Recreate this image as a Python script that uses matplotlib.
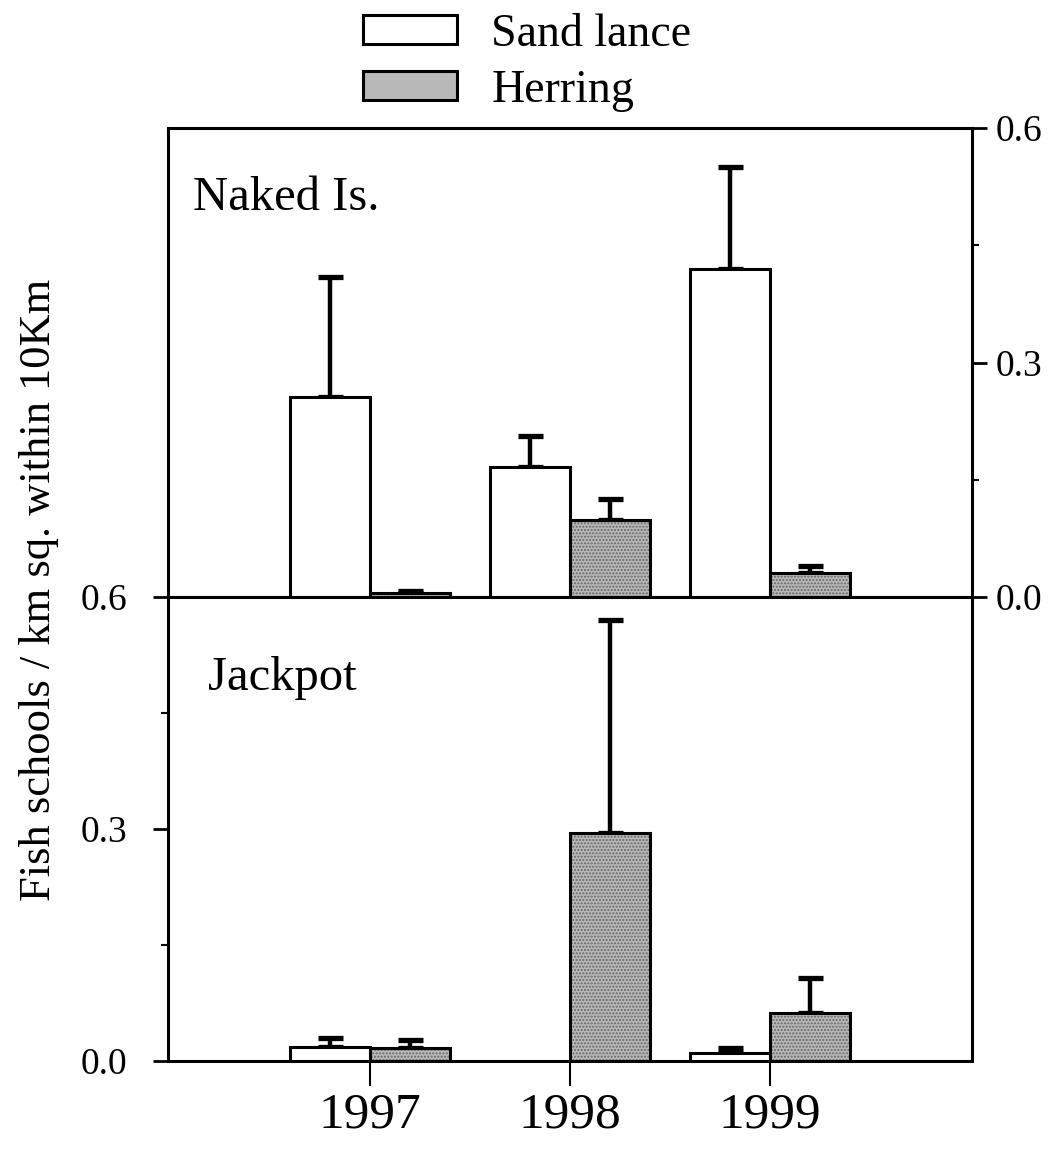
import numpy as np
import matplotlib.pyplot as plt
from matplotlib.patches import Patch
from matplotlib.ticker import MultipleLocator

plt.rcParams['font.family'] = ['Liberation Serif', 'DejaVu Serif']
plt.rcParams['ytick.labelsize'] = 27
plt.rcParams['xtick.labelsize'] = 37

years = [1997, 1998, 1999]
# Naked Island
naked_sand = [0.256, 0.166, 0.420]
naked_sand_err = [0.154, 0.040, 0.130]
naked_herring = [0.005, 0.099, 0.031]
naked_herring_err = [0.003, 0.027, 0.009]
# Jackpot
jack_sand = [0.018, 0.0, 0.010]
jack_sand_err = [0.012, 0.0, 0.007]
jack_herring = [0.017, 0.295, 0.062]
jack_herring_err = [0.010, 0.275, 0.045]

width = 0.4
x = np.array(years)
herring_face = '#b8b8b8'

fig = plt.figure(figsize=(10.58, 11.49), dpi=100)
ax_top = fig.add_axes([0.1588, 0.4804, 0.7600, 0.4082])
ax_bot = fig.add_axes([0.1588, 0.0766, 0.7600, 0.4038])


def draw_panel(ax, sand, sand_err, herring, herring_err):
    for xi, v, e in zip(x - width / 2, sand, sand_err):
        if v <= 0:
            continue
        ax.bar(xi, v, width, color='white', edgecolor='black', linewidth=2.2, zorder=3)
        ax.errorbar(xi, v, yerr=[[0], [e]], fmt='none', ecolor='black',
                    elinewidth=3.2, capsize=9, capthick=3.8, zorder=2)
    for xi, v, e in zip(x + width / 2, herring, herring_err):
        # stippled fill, then the black outline on top
        ax.bar(xi, v, width, color=herring_face, edgecolor='#666666', hatch='.....',
               linewidth=0, zorder=3)
        ax.bar(xi, v, width, fill=False, edgecolor='black', linewidth=2.2, zorder=4)
        ax.errorbar(xi, v, yerr=[[0], [e]], fmt='none', ecolor='black',
                    elinewidth=3.2, capsize=9, capthick=3.8, zorder=2)
    ax.set_xlim(1995.99, 2000.01)
    ax.set_ylim(0, 0.6)
    for s in ax.spines.values():
        s.set_linewidth(2.2)
    ax.yaxis.set_major_locator(MultipleLocator(0.3))
    ax.yaxis.set_minor_locator(MultipleLocator(0.15))
    ax.yaxis.set_major_formatter(plt.FormatStrFormatter('%.1f'))
    ax.tick_params(axis='y', which='major', direction='out', length=11, width=2)
    ax.tick_params(axis='y', which='minor', direction='out', length=5, width=1.5)


draw_panel(ax_top, naked_sand, naked_sand_err, naked_herring, naked_herring_err)
draw_panel(ax_bot, jack_sand, jack_sand_err, jack_herring, jack_herring_err)

ax_top.yaxis.tick_right()
ax_top.tick_params(axis='y', which='major', pad=6)
ax_top.set_xticks([])
ax_top.text(0.031, 0.825, 'Naked Is.', transform=ax_top.transAxes, fontsize=35)

ax_bot.tick_params(axis='y', which='major', pad=18)
ax_bot.set_xticks(years)
ax_bot.set_xticklabels([str(y) for y in years])
ax_bot.tick_params(axis='x', direction='out', length=18, width=1.5, pad=4)
ax_bot.text(0.05, 0.80, 'Jackpot', transform=ax_bot.transAxes, fontsize=35)

fig.text(0.037, 0.487, 'Fish schools / km sq. within 10Km', rotation=90,
         ha='center', va='center', fontsize=32)

handles = [Patch(facecolor='white', edgecolor='black', linewidth=2.2, label='Sand lance'),
           Patch(facecolor=herring_face, edgecolor='black', linewidth=2.2, label='Herring')]
fig.legend(handles=handles, loc='upper left', bbox_to_anchor=(363 / 1058, 1 - 13 / 1149),
           frameon=False, fontsize=33, handlelength=2.05, handleheight=0.6,
           handletextpad=0.75, labelspacing=0.3, borderpad=0, borderaxespad=0)

fig.savefig('out.png', dpi=100)
